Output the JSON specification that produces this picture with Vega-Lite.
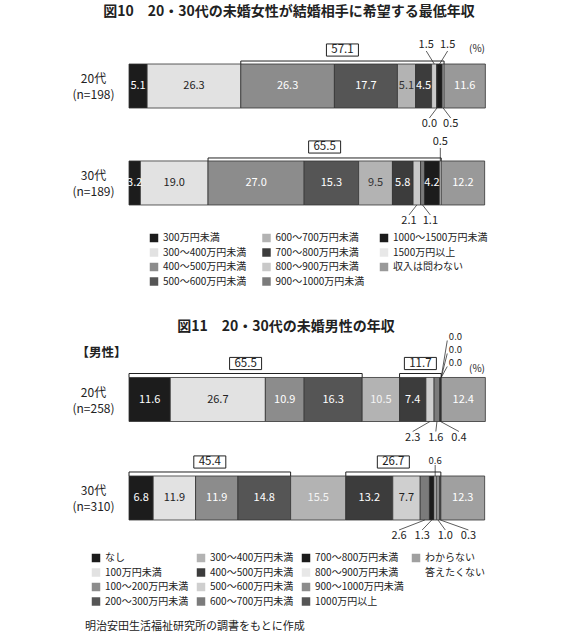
{
  "$schema": "https://vega.github.io/schema/vega-lite/v6.json",
  "padding": {"left": 69, "top": 5, "right": 20, "bottom": 5},
  "bounds": "flush",
  "spacing": 130,
  "title": {
    "text": "明治安田生活福祉研究所の調書をもとに作成",
    "orient": "bottom", "anchor": "start", "frame": "group",
    "fontSize": 11, "fontWeight": "normal", "offset": 14, "dx": -44, "color": "#222"
  },
  "config": {
    "font": "Noto Sans CJK JP",
    "view": {"stroke": null},
    "text": {"color": "#222"},
    "legend": {"padding": 0, "symbolType": "square", "symbolSize": 72, "symbolStrokeWidth": 0, "labelFontSize": 10, "labelColor": "#222", "labelOffset": 4, "rowPadding": 4.5}
  },
  "resolve": {"scale": {"color": "independent", "fill": "independent", "x": "independent", "y": "independent"}},
  "vconcat": [
    {
      "width": 356,
      "height": 185,
      "title": {"text": "図10　20・30代の未婚女性が結婚相手に希望する最低年収", "fontSize": 14, "fontWeight": "bold", "anchor": "middle", "frame": "group", "dx": -18, "offset": 20, "color": "#222"},
      "data": {"values": [
        {"age": "20代 (n=198)", "cat": "300万円未満", "value": 5.1},
        {"age": "20代 (n=198)", "cat": "300～400万円未満", "value": 26.3},
        {"age": "20代 (n=198)", "cat": "400～500万円未満", "value": 26.3, "bracket": "A"},
        {"age": "20代 (n=198)", "cat": "500～600万円未満", "value": 17.7, "bracket": "A"},
        {"age": "20代 (n=198)", "cat": "600～700万円未満", "value": 5.1, "bracket": "A"},
        {"age": "20代 (n=198)", "cat": "700～800万円未満", "value": 4.5, "bracket": "A"},
        {"age": "20代 (n=198)", "cat": "800～900万円未満", "value": 1.5, "bracket": "A", "side": "above"},
        {"age": "20代 (n=198)", "cat": "900～1000万円未満", "value": 0.0, "bracket": "A", "side": "below"},
        {"age": "20代 (n=198)", "cat": "1000～1500万円未満", "value": 1.5, "bracket": "A", "side": "above"},
        {"age": "20代 (n=198)", "cat": "1500万円以上", "value": 0.5, "bracket": "A", "side": "below"},
        {"age": "20代 (n=198)", "cat": "収入は問わない", "value": 11.6},
        {"age": "30代 (n=189)", "cat": "300万円未満", "value": 3.2},
        {"age": "30代 (n=189)", "cat": "300～400万円未満", "value": 19.0},
        {"age": "30代 (n=189)", "cat": "400～500万円未満", "value": 27.0, "bracket": "A"},
        {"age": "30代 (n=189)", "cat": "500～600万円未満", "value": 15.3, "bracket": "A"},
        {"age": "30代 (n=189)", "cat": "600～700万円未満", "value": 9.5, "bracket": "A"},
        {"age": "30代 (n=189)", "cat": "700～800万円未満", "value": 5.8, "bracket": "A"},
        {"age": "30代 (n=189)", "cat": "800～900万円未満", "value": 2.1, "bracket": "A", "side": "below"},
        {"age": "30代 (n=189)", "cat": "900～1000万円未満", "value": 1.1, "bracket": "A", "side": "below"},
        {"age": "30代 (n=189)", "cat": "1000～1500万円未満", "value": 4.2, "bracket": "A"},
        {"age": "30代 (n=189)", "cat": "1500万円以上", "value": 0.5, "bracket": "A", "side": "above"},
        {"age": "30代 (n=189)", "cat": "収入は問わない", "value": 12.2}
      ]},
      "transform": [
        {"window": [{"op": "row_number", "as": "idx"}], "groupby": ["age"]},
        {"stack": "value", "groupby": ["age"], "sort": [{"field": "idx", "order": "ascending"}], "as": ["x0", "x1"]},
        {"calculate": "(datum.x0 + datum.x1) / 2", "as": "mid"},
        {"joinaggregate": [{"op": "mean", "field": "mid", "as": "gmid"}, {"op": "count", "as": "n"}], "groupby": ["age", "side"]},
        {"window": [{"op": "row_number", "as": "r"}], "sort": [{"field": "mid", "order": "ascending"}, {"field": "idx", "order": "ascending"}], "groupby": ["age", "side"]},
        {"calculate": "datum.gmid + (datum.r - (datum.n + 1) / 2) * 6", "as": "lx"}
      ],
      "layer": [
        {
          "mark": {"type": "bar", "stroke": "#333", "strokeWidth": 0.8},
          "encoding": {
            "x": {"field": "x0", "type": "quantitative", "scale": {"domain": [0, 100], "nice": false}, "axis": null},
            "x2": {"field": "x1"},
            "y": {
              "field": "age", "type": "nominal", "sort": null,
              "scale": {"paddingInner": 0.546, "paddingOuter": 0.227},
              "axis": {"title": null, "domain": false, "ticks": false, "tickSize": 0, "labelPadding": 36, "labelAlign": "center", "labelBaseline": "middle", "labelOffset": -7, "labelFontSize": 12, "labelColor": "#222", "labelLineHeight": 16, "labelExpr": "split(datum.value, ' ')", "minExtent": 60, "maxExtent": 60}
            },
            "color": {
              "field": "cat", "type": "nominal",
              "scale": {
                "domain": ["300万円未満", "300～400万円未満", "400～500万円未満", "500～600万円未満", "600～700万円未満", "700～800万円未満", "800～900万円未満", "900～1000万円未満", "1000～1500万円未満", "1500万円以上", "収入は問わない"],
                "range": ["#1c1c1c", "#e2e2e2", "#8c8c8c", "#555555", "#b3b3b3", "#3c3c3c", "#c9c9c9", "#7b7b7b", "#1c1c1c", "#e8e8e8", "#999999"]
              },
              "legend": {"title": null, "orient": "none", "legendX": 20, "legendY": 191, "columns": 3, "columnPadding": 14.5}
            }
          }
        },
        {
          "transform": [{"filter": "!datum.side"}],
          "mark": {"type": "text", "fontSize": 11},
          "encoding": {
            "x": {"field": "mid", "type": "quantitative"},
            "y": {"field": "age", "type": "nominal"},
            "text": {"field": "value", "type": "quantitative", "format": ".1f"},
            "fill": {
              "field": "cat", "type": "nominal", "legend": null,
              "scale": {
                "domain": ["300万円未満", "300～400万円未満", "400～500万円未満", "500～600万円未満", "600～700万円未満", "700～800万円未満", "800～900万円未満", "900～1000万円未満", "1000～1500万円未満", "1500万円以上", "収入は問わない"],
                "range": ["#ffffff", "#222222", "#ffffff", "#ffffff", "#333333", "#ffffff", "#222222", "#ffffff", "#ffffff", "#222222", "#ffffff"]
              }
            }
          }
        },
        {
          "transform": [{"filter": "datum.side === 'above'"}],
          "mark": {"type": "rule", "stroke": "#333", "strokeWidth": 0.8, "yOffset": -22, "y2Offset": -35},
          "encoding": {
            "x": {"field": "mid", "type": "quantitative"},
            "x2": {"field": "lx"},
            "y": {"field": "age", "type": "nominal"},
            "y2": {"field": "age"}
          }
        },
        {
          "transform": [{"filter": "datum.side === 'below'"}],
          "mark": {"type": "rule", "stroke": "#333", "strokeWidth": 0.8, "yOffset": 22, "y2Offset": 32},
          "encoding": {
            "x": {"field": "mid", "type": "quantitative"},
            "x2": {"field": "lx"},
            "y": {"field": "age", "type": "nominal"},
            "y2": {"field": "age"}
          }
        },
        {
          "transform": [{"filter": "datum.side === 'above'"}],
          "mark": {"type": "text", "fontSize": 11, "yOffset": -41},
          "encoding": {
            "x": {"field": "lx", "type": "quantitative"},
            "y": {"field": "age", "type": "nominal"},
            "text": {"field": "value", "type": "quantitative", "format": ".1f"}
          }
        },
        {
          "transform": [{"filter": "datum.side === 'below'"}],
          "mark": {"type": "text", "fontSize": 11, "yOffset": 38},
          "encoding": {
            "x": {"field": "lx", "type": "quantitative"},
            "y": {"field": "age", "type": "nominal"},
            "text": {"field": "value", "type": "quantitative", "format": ".1f"}
          }
        },
        {
          "transform": [
            {"filter": "datum.bracket != null"},
            {"aggregate": [{"op": "min", "field": "x0", "as": "bx0"}, {"op": "max", "field": "x1", "as": "bx1"}, {"op": "sum", "field": "value", "as": "btot"}], "groupby": ["age", "bracket"]},
            {"calculate": "(datum.bx0 + datum.bx1) / 2", "as": "bmid"}
          ],
          "layer": [
            {
              "mark": {"type": "rule", "stroke": "#222", "strokeWidth": 1, "yOffset": -25},
              "encoding": {"x": {"field": "bx0", "type": "quantitative"}, "x2": {"field": "bx1"}, "y": {"field": "age", "type": "nominal"}}
            },
            {
              "mark": {"type": "rule", "stroke": "#222", "strokeWidth": 1, "yOffset": -25, "y2Offset": -22},
              "encoding": {"x": {"field": "bx0", "type": "quantitative"}, "y": {"field": "age", "type": "nominal"}, "y2": {"field": "age"}}
            },
            {
              "mark": {"type": "rule", "stroke": "#222", "strokeWidth": 1, "yOffset": -25, "y2Offset": -22},
              "encoding": {"x": {"field": "bx1", "type": "quantitative"}, "y": {"field": "age", "type": "nominal"}, "y2": {"field": "age"}}
            },
            {
              "mark": {"type": "point", "shape": "M-1,-0.38H1V0.38H-1Z", "size": 1024, "filled": true, "fill": "#ffffff", "stroke": "#222", "strokeWidth": 1, "opacity": 1, "yOffset": -36},
              "encoding": {"x": {"field": "bmid", "type": "quantitative"}, "y": {"field": "age", "type": "nominal"}}
            },
            {
              "mark": {"type": "text", "fontSize": 11.5, "yOffset": -36},
              "encoding": {"x": {"field": "bmid", "type": "quantitative"}, "y": {"field": "age", "type": "nominal"}, "text": {"field": "btot", "type": "quantitative", "format": ".1f"}}
            }
          ]
        },
        {
          "transform": [{"filter": "datum.idx === 1 && datum.age === '20代 (n=198)'"}],
          "mark": {"type": "text", "text": "(%)", "align": "right", "fontSize": 10, "yOffset": -37},
          "encoding": {"x": {"datum": 100, "type": "quantitative"}, "y": {"field": "age", "type": "nominal"}}
        }
      ]
    },
    {
      "width": 356,
      "height": 183.5,
      "title": {"text": "図11　20・30代の未婚男性の年収", "fontSize": 14, "fontWeight": "bold", "anchor": "middle", "frame": "group", "dx": -21, "offset": -2, "color": "#222"},
      "data": {"values": [
        {"age": "20代 (n=258)", "cat": "なし", "value": 11.6, "bracket": "A"},
        {"age": "20代 (n=258)", "cat": "100万円未満", "value": 26.7, "bracket": "A"},
        {"age": "20代 (n=258)", "cat": "100～200万円未満", "value": 10.9, "bracket": "A"},
        {"age": "20代 (n=258)", "cat": "200～300万円未満", "value": 16.3, "bracket": "A"},
        {"age": "20代 (n=258)", "cat": "300～400万円未満", "value": 10.5},
        {"age": "20代 (n=258)", "cat": "400～500万円未満", "value": 7.4, "bracket": "B"},
        {"age": "20代 (n=258)", "cat": "500～600万円未満", "value": 2.3, "bracket": "B", "side": "below"},
        {"age": "20代 (n=258)", "cat": "600～700万円未満", "value": 1.6, "bracket": "B", "side": "below"},
        {"age": "20代 (n=258)", "cat": "700～800万円未満", "value": 0.4, "bracket": "B", "side": "below"},
        {"age": "20代 (n=258)", "cat": "800～900万円未満", "value": 0.0, "bracket": "B", "side": "above"},
        {"age": "20代 (n=258)", "cat": "900～1000万円未満", "value": 0.0, "bracket": "B", "side": "above"},
        {"age": "20代 (n=258)", "cat": "1000万円以上", "value": 0.0, "bracket": "B", "side": "above"},
        {"age": "20代 (n=258)", "cat": "わからない", "value": 12.4},
        {"age": "30代 (n=310)", "cat": "なし", "value": 6.8, "bracket": "A"},
        {"age": "30代 (n=310)", "cat": "100万円未満", "value": 11.9, "bracket": "A"},
        {"age": "30代 (n=310)", "cat": "100～200万円未満", "value": 11.9, "bracket": "A"},
        {"age": "30代 (n=310)", "cat": "200～300万円未満", "value": 14.8, "bracket": "A"},
        {"age": "30代 (n=310)", "cat": "300～400万円未満", "value": 15.5},
        {"age": "30代 (n=310)", "cat": "400～500万円未満", "value": 13.2, "bracket": "B"},
        {"age": "30代 (n=310)", "cat": "500～600万円未満", "value": 7.7, "bracket": "B"},
        {"age": "30代 (n=310)", "cat": "600～700万円未満", "value": 2.6, "bracket": "B", "side": "below"},
        {"age": "30代 (n=310)", "cat": "700～800万円未満", "value": 1.3, "bracket": "B", "side": "below"},
        {"age": "30代 (n=310)", "cat": "800～900万円未満", "value": 0.6, "bracket": "B", "side": "above"},
        {"age": "30代 (n=310)", "cat": "900～1000万円未満", "value": 1.0, "bracket": "B", "side": "below"},
        {"age": "30代 (n=310)", "cat": "1000万円以上", "value": 0.3, "bracket": "B", "side": "below"},
        {"age": "30代 (n=310)", "cat": "わからない", "value": 12.3}
      ]},
      "transform": [
        {"window": [{"op": "row_number", "as": "idx"}], "groupby": ["age"]},
        {"stack": "value", "groupby": ["age"], "sort": [{"field": "idx", "order": "ascending"}], "as": ["x0", "x1"]},
        {"calculate": "(datum.x0 + datum.x1) / 2", "as": "mid"},
        {"joinaggregate": [{"op": "mean", "field": "mid", "as": "gmid"}, {"op": "count", "as": "n"}], "groupby": ["age", "side"]},
        {"window": [{"op": "row_number", "as": "r"}], "sort": [{"field": "mid", "order": "ascending"}, {"field": "idx", "order": "ascending"}], "groupby": ["age", "side"]},
        {"calculate": "datum.side === 'above' ? datum.gmid + (datum.n > 1 ? 4 : 0) : datum.gmid + (datum.r - (datum.n + 1) / 2) * 6.5", "as": "lx"},
        {"calculate": "datum.side === 'above' && datum.n > 1 ? datum.lx - 2.3 : datum.lx", "as": "lxe"}
      ],
      "layer": [
        {
          "mark": {"type": "bar", "stroke": "#333", "strokeWidth": 0.8},
          "encoding": {
            "x": {"field": "x0", "type": "quantitative", "scale": {"domain": [0, 100], "nice": false}, "axis": null},
            "x2": {"field": "x1"},
            "y": {
              "field": "age", "type": "nominal", "sort": null,
              "scale": {"paddingInner": 0.553, "paddingOuter": 0.208},
              "axis": {"title": "【男性】", "titleAngle": 0, "titleX": -53, "titleY": -5, "titleAlign": "left", "titleBaseline": "middle", "titleFontSize": 12.5, "titleFontWeight": "bold", "titleColor": "#222", "domain": false, "ticks": false, "tickSize": 0, "labelPadding": 36, "labelAlign": "center", "labelBaseline": "middle", "labelOffset": -7, "labelFontSize": 12, "labelColor": "#222", "labelLineHeight": 16, "labelExpr": "split(datum.value, ' ')", "minExtent": 60, "maxExtent": 60}
            },
            "color": {
              "field": "cat", "type": "nominal",
              "scale": {
                "domain": ["なし", "100万円未満", "100～200万円未満", "200～300万円未満", "300～400万円未満", "400～500万円未満", "500～600万円未満", "600～700万円未満", "700～800万円未満", "800～900万円未満", "900～1000万円未満", "1000万円以上", "わからない", "答えたくない", " "],
                "range": ["#1c1c1c", "#e2e2e2", "#8c8c8c", "#555555", "#b3b3b3", "#3c3c3c", "#cfcfcf", "#7b7b7b", "#1c1c1c", "#e8e8e8", "#8c8c8c", "#555555", "#a0a0a0", "#ffffff", "#ffffff"]
              },
              "legend": {"title": null, "orient": "none", "legendX": -38, "legendY": 196, "columns": 4, "columnPadding": 7}
            }
          }
        },
        {
          "transform": [{"filter": "!datum.side"}],
          "mark": {"type": "text", "fontSize": 11},
          "encoding": {
            "x": {"field": "mid", "type": "quantitative"},
            "y": {"field": "age", "type": "nominal"},
            "text": {"field": "value", "type": "quantitative", "format": ".1f"},
            "fill": {
              "field": "cat", "type": "nominal", "legend": null,
              "scale": {
                "domain": ["なし", "100万円未満", "100～200万円未満", "200～300万円未満", "300～400万円未満", "400～500万円未満", "500～600万円未満", "600～700万円未満", "700～800万円未満", "800～900万円未満", "900～1000万円未満", "1000万円以上", "わからない"],
                "range": ["#ffffff", "#222222", "#ffffff", "#ffffff", "#f4f4f4", "#ffffff", "#222222", "#ffffff", "#ffffff", "#222222", "#ffffff", "#ffffff", "#ffffff"]
              }
            }
          }
        },
        {
          "transform": [{"filter": "datum.side === 'above' && datum.r === 1"}],
          "mark": {"type": "rule", "stroke": "#333", "strokeWidth": 0.8, "yOffset": -22, "y2Offset": -33},
          "encoding": {"x": {"field": "mid", "type": "quantitative"}, "x2": {"field": "lxe"}, "y": {"field": "age", "type": "nominal"}, "y2": {"field": "age"}}
        },
        {
          "transform": [{"filter": "datum.side === 'above' && datum.r === 2"}],
          "mark": {"type": "rule", "stroke": "#333", "strokeWidth": 0.8, "yOffset": -22, "y2Offset": -46},
          "encoding": {"x": {"field": "mid", "type": "quantitative"}, "x2": {"field": "lxe"}, "y": {"field": "age", "type": "nominal"}, "y2": {"field": "age"}}
        },
        {
          "transform": [{"filter": "datum.side === 'above' && datum.r === 3"}],
          "mark": {"type": "rule", "stroke": "#333", "strokeWidth": 0.8, "yOffset": -22, "y2Offset": -59},
          "encoding": {"x": {"field": "mid", "type": "quantitative"}, "x2": {"field": "lxe"}, "y": {"field": "age", "type": "nominal"}, "y2": {"field": "age"}}
        },
        {
          "transform": [{"filter": "datum.side === 'below'"}],
          "mark": {"type": "rule", "stroke": "#333", "strokeWidth": 0.8, "yOffset": 22, "y2Offset": 32},
          "encoding": {"x": {"field": "mid", "type": "quantitative"}, "x2": {"field": "lx"}, "y": {"field": "age", "type": "nominal"}, "y2": {"field": "age"}}
        },
        {
          "transform": [{"filter": "datum.side === 'above' && datum.r === 1"}],
          "mark": {"type": "text", "fontSize": 9.5, "yOffset": -37},
          "encoding": {"x": {"field": "lx", "type": "quantitative"}, "y": {"field": "age", "type": "nominal"}, "text": {"field": "value", "type": "quantitative", "format": ".1f"}}
        },
        {
          "transform": [{"filter": "datum.side === 'above' && datum.r === 2"}],
          "mark": {"type": "text", "fontSize": 9.5, "yOffset": -50},
          "encoding": {"x": {"field": "lx", "type": "quantitative"}, "y": {"field": "age", "type": "nominal"}, "text": {"field": "value", "type": "quantitative", "format": ".1f"}}
        },
        {
          "transform": [{"filter": "datum.side === 'above' && datum.r === 3"}],
          "mark": {"type": "text", "fontSize": 9.5, "yOffset": -63},
          "encoding": {"x": {"field": "lx", "type": "quantitative"}, "y": {"field": "age", "type": "nominal"}, "text": {"field": "value", "type": "quantitative", "format": ".1f"}}
        },
        {
          "transform": [{"filter": "datum.side === 'below'"}],
          "mark": {"type": "text", "fontSize": 11, "yOffset": 38},
          "encoding": {"x": {"field": "lx", "type": "quantitative"}, "y": {"field": "age", "type": "nominal"}, "text": {"field": "value", "type": "quantitative", "format": ".1f"}}
        },
        {
          "transform": [
            {"filter": "datum.bracket != null"},
            {"aggregate": [{"op": "min", "field": "x0", "as": "bx0"}, {"op": "max", "field": "x1", "as": "bx1"}, {"op": "sum", "field": "value", "as": "btot"}], "groupby": ["age", "bracket"]},
            {"calculate": "(datum.bx0 + datum.bx1) / 2", "as": "bmid"}
          ],
          "layer": [
            {
              "mark": {"type": "rule", "stroke": "#222", "strokeWidth": 1, "yOffset": -26},
              "encoding": {"x": {"field": "bx0", "type": "quantitative"}, "x2": {"field": "bx1"}, "y": {"field": "age", "type": "nominal"}}
            },
            {
              "mark": {"type": "rule", "stroke": "#222", "strokeWidth": 1, "yOffset": -26, "y2Offset": -22},
              "encoding": {"x": {"field": "bx0", "type": "quantitative"}, "y": {"field": "age", "type": "nominal"}, "y2": {"field": "age"}}
            },
            {
              "mark": {"type": "rule", "stroke": "#222", "strokeWidth": 1, "yOffset": -26, "y2Offset": -22},
              "encoding": {"x": {"field": "bx1", "type": "quantitative"}, "y": {"field": "age", "type": "nominal"}, "y2": {"field": "age"}}
            },
            {
              "mark": {"type": "point", "shape": "M-1,-0.38H1V0.38H-1Z", "size": 1024, "filled": true, "fill": "#ffffff", "stroke": "#222", "strokeWidth": 1, "opacity": 1, "yOffset": -36},
              "encoding": {"x": {"field": "bmid", "type": "quantitative"}, "y": {"field": "age", "type": "nominal"}}
            },
            {
              "mark": {"type": "text", "fontSize": 11.5, "yOffset": -36},
              "encoding": {"x": {"field": "bmid", "type": "quantitative"}, "y": {"field": "age", "type": "nominal"}, "text": {"field": "btot", "type": "quantitative", "format": ".1f"}}
            }
          ]
        },
        {
          "transform": [{"filter": "datum.idx === 1 && datum.age === '20代 (n=258)'"}],
          "mark": {"type": "text", "text": "(%)", "align": "right", "fontSize": 10, "yOffset": -31},
          "encoding": {"x": {"datum": 100, "type": "quantitative"}, "y": {"field": "age", "type": "nominal"}}
        }
      ]
    }
  ]
}
